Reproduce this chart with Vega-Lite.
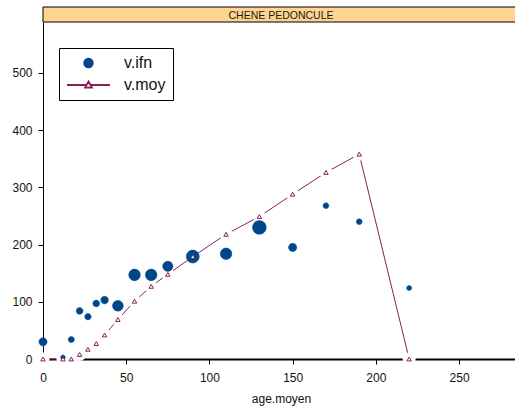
{
  "$schema": "https://vega.github.io/schema/vega-lite/v6.json",
  "padding": {"left": 11, "top": 6, "right": 0, "bottom": 5},
  "spacing": 0,
  "bounds": "flush",
  "config": {
    "font": "Liberation Sans",
    "view": {"stroke": null},
    "axis": {"grid": false, "domainColor": "black", "tickColor": "black", "labelColor": "#111", "titleColor": "#111", "labelFontSize": 12, "titleFontSize": 12, "titleFontWeight": "normal", "tickSize": 5, "zindex": 1, "labelFlush": false}
  },
  "vconcat": [
    {
      "width": 476,
      "height": 15,
      "data": {"values": [{"espece": "CHENE PEDONCULE"}]},
      "layer": [
        {"mark": {"type": "rect", "fill": "#FFD390", "stroke": "black", "strokeWidth": 1}, "encoding": {}},
        {"mark": {"type": "text", "fontSize": 10.5, "color": "#1a1a1a", "baseline": "middle", "dy": 1}, "encoding": {"text": {"field": "espece"}}}
      ]
    },
    {
      "width": 476,
      "height": 337,
      "data": {"values": [
        {"serie": "v.ifn", "age": 0, "v": 30, "n": 16},
        {"serie": "v.ifn", "age": 12, "v": 3, "n": 5},
        {"serie": "v.ifn", "age": 17, "v": 34, "n": 9},
        {"serie": "v.ifn", "age": 22, "v": 84, "n": 11},
        {"serie": "v.ifn", "age": 27, "v": 74, "n": 10},
        {"serie": "v.ifn", "age": 32, "v": 97, "n": 11},
        {"serie": "v.ifn", "age": 37, "v": 103, "n": 14},
        {"serie": "v.ifn", "age": 45, "v": 93, "n": 28},
        {"serie": "v.ifn", "age": 55, "v": 147, "n": 32},
        {"serie": "v.ifn", "age": 65, "v": 147, "n": 32},
        {"serie": "v.ifn", "age": 75, "v": 162, "n": 25},
        {"serie": "v.ifn", "age": 90, "v": 179, "n": 40},
        {"serie": "v.ifn", "age": 110, "v": 184, "n": 32},
        {"serie": "v.ifn", "age": 130, "v": 230, "n": 45},
        {"serie": "v.ifn", "age": 150, "v": 195, "n": 16},
        {"serie": "v.ifn", "age": 170, "v": 268, "n": 8},
        {"serie": "v.ifn", "age": 190, "v": 240, "n": 8},
        {"serie": "v.ifn", "age": 220, "v": 124, "n": 6},
        {"serie": "v.moy", "age": 0, "v": 0},
        {"serie": "v.moy", "age": 12, "v": 0},
        {"serie": "v.moy", "age": 17, "v": 0},
        {"serie": "v.moy", "age": 22, "v": 8},
        {"serie": "v.moy", "age": 27, "v": 17},
        {"serie": "v.moy", "age": 32, "v": 27},
        {"serie": "v.moy", "age": 37, "v": 42},
        {"serie": "v.moy", "age": 45, "v": 69},
        {"serie": "v.moy", "age": 55, "v": 101},
        {"serie": "v.moy", "age": 65, "v": 127},
        {"serie": "v.moy", "age": 75, "v": 148},
        {"serie": "v.moy", "age": 90, "v": 179},
        {"serie": "v.moy", "age": 110, "v": 218},
        {"serie": "v.moy", "age": 130, "v": 249},
        {"serie": "v.moy", "age": 150, "v": 288},
        {"serie": "v.moy", "age": 170, "v": 326},
        {"serie": "v.moy", "age": 190, "v": 358},
        {"serie": "v.moy", "age": 220, "v": 0}
      ]},
      "encoding": {
        "x": {"field": "age", "type": "quantitative", "scale": {"domain": [0, 286], "nice": false, "zero": false},
              "axis": {"title": "age.moyen", "values": [0, 50, 100, 150, 200, 250], "domainWidth": 2, "labelPadding": 8, "titlePadding": 10}},
        "y": {"field": "v", "type": "quantitative", "scale": {"domain": [0, 589], "nice": false},
              "axis": {"title": null, "values": [0, 100, 200, 300, 400, 500], "domainWidth": 1, "labelPadding": 6}}
      },
      "layer": [
        {
          "transform": [{"filter": "datum.serie === 'v.moy'"}],
          "mark": {"type": "line", "color": "#8C1D57", "strokeWidth": 1}
        },
        {
          "transform": [{"filter": "datum.serie === 'v.moy'"}],
          "mark": {"type": "point", "filled": true, "color": "white", "size": 170, "opacity": 1}
        },
        {
          "transform": [{"filter": "datum.serie === 'v.ifn'"}],
          "mark": {"type": "point", "filled": true, "opacity": 1, "strokeWidth": 0.5},
          "encoding": {
            "size": {"field": "n", "type": "quantitative", "scale": {"type": "linear", "domain": [0, 45], "range": [0, 4700]}, "legend": null},
            "shape": {"field": "serie", "type": "nominal",
              "scale": {"domain": ["v.ifn", "v.moy"], "range": ["M-0.2,0A0.2,0.2,0,1,1,0.2,0A0.2,0.2,0,1,1,-0.2,0Z", "M-1,0H-0.09M0.09,0H1M0,-0.16L0.16,0.12L-0.16,0.12Z"]},
              "legend": {
                "title": null, "orient": "none", "legendX": 16, "legendY": 41,
                "strokeColor": "black", "fillColor": "white", "padding": 7,
                "labelFontSize": 16, "labelColor": "#111", "labelOffset": 13, "rowPadding": 6,
                "symbolSize": 1849, "clipHeight": 16, "symbolStrokeWidth": 1.8, "symbolOpacity": 1
              }},
            "fill": {"field": "serie", "type": "nominal", "scale": {"domain": ["v.ifn", "v.moy"], "range": ["#00468B", "white"]},
              "legend": {
                "title": null, "orient": "none", "legendX": 16, "legendY": 41,
                "strokeColor": "black", "fillColor": "white", "padding": 7,
                "labelFontSize": 16, "labelColor": "#111", "labelOffset": 13, "rowPadding": 6,
                "symbolSize": 1849, "clipHeight": 16, "symbolStrokeWidth": 1.8, "symbolOpacity": 1
              }},
            "stroke": {"field": "serie", "type": "nominal", "scale": {"domain": ["v.ifn", "v.moy"], "range": ["#00468B", "#8C1D57"]},
              "legend": {
                "title": null, "orient": "none", "legendX": 16, "legendY": 41,
                "strokeColor": "black", "fillColor": "white", "padding": 7,
                "labelFontSize": 16, "labelColor": "#111", "labelOffset": 13, "rowPadding": 6,
                "symbolSize": 1849, "clipHeight": 16, "symbolStrokeWidth": 1.8, "symbolOpacity": 1
              }}
          }
        },
        {
          "transform": [{"filter": "datum.serie === 'v.moy'"}],
          "mark": {"type": "point", "shape": "triangle-up", "filled": false, "fill": "white", "fillOpacity": 1, "stroke": "#8C1D57", "strokeWidth": 1, "size": 20, "opacity": 1}
        }
      ]
    }
  ]
}
